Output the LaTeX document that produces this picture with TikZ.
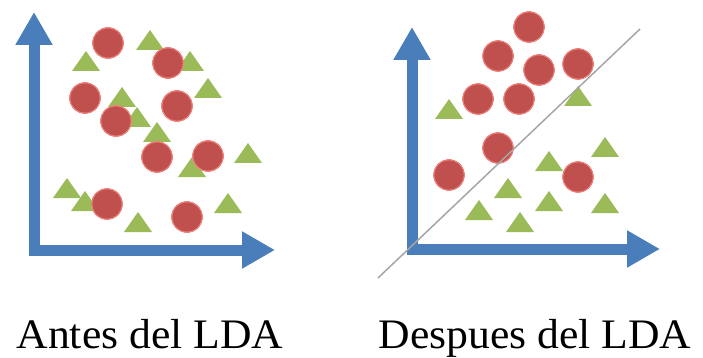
\documentclass[tikz,border=0pt]{standalone}
\usepackage{fontspec}
\setmainfont{Liberation Serif}
\usepackage{tikz}
\usetikzlibrary{arrows.meta}
\definecolor{axisblue}{RGB}{74,126,187}
\definecolor{dotred}{RGB}{192,80,77}
\definecolor{dotrim}{RGB}{240,130,125}
\definecolor{trigreen}{RGB}{155,187,89}
\tikzset{
  axis/.style={axisblue, line width=11pt, line join=miter,
    {Triangle[length=33pt,width=35pt]}-{Triangle[length=33pt,width=35pt]}},
  dot/.style={circle, fill=dotred, draw=dotrim, line width=0.8pt, minimum size=30pt, inner sep=0pt},
  split/.style={gray!70, line width=1.5pt},
  caption/.style={anchor=base, inner sep=0pt, font=\fontsize{42}{48}\selectfont, xscale=1.04}
}
\newcommand{\tri}[2]{\fill[trigreen] (#1-14,#2) -- (#1,#2-20) -- (#1+14,#2) -- cycle;}

\begin{document}
\begin{tikzpicture}[x=1pt, y=-1pt]
		\useasboundingbox (0,0) rectangle (703,358);
		% before: axes
		\draw[axis] (34,12) -- (34,250) -- (275,250);
		% before: triangles
		\foreach \x/\y in {150/50,86/71,190/71,208/98,122/107,137/127,157/142,248/163,192/177,67/198,85/211,228/213,138/232}
			\tri{\x}{\y}
		% before: circles
		\foreach \x/\y [count=\i] in {108/43,168/63,85/98,177/106,116/121,157/157,208/156,107/204,187/217}
			\node[dot] (a\i) at (\x,\y) {};
		% after: axes
		\draw[axis] (412,27) -- (412,249) -- (660,249);
		% after: triangles
		\foreach \x/\y in {449/119,578/106,605/157,549/171,508/198,479/220,549/211,605/213,520/232}
			\tri{\x}{\y}
		% after: circles
		\foreach \x/\y [count=\i] in {529/27,498/56,539/70,578/64,478/99,519/99,498/148,449/175,578/177}
			\node[dot] (b\i) at (\x,\y) {};
		% separating line
		\coordinate (s1) at (378,278);
		\coordinate (s2) at (640,29);
		\draw[split] (s1) -- (s2);
		% labels
		\node[caption] (before) at (150,348) {Antes del LDA};
		\node[caption] (after) at (535,348) {Despues del LDA};
	\end{tikzpicture}
\end{document}
